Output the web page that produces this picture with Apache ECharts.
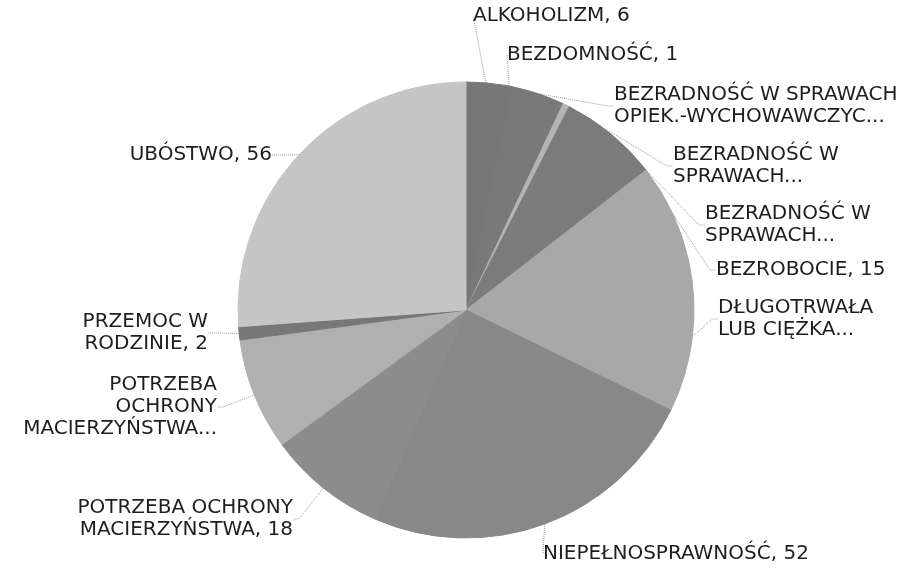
<!DOCTYPE html>
<html>
<head>
<meta charset="utf-8">
<script src="https://cdn.jsdelivr.net/npm/echarts@6/dist/echarts.min.js"></script>
<style>
  html, body { margin: 0; background: #fff; }
  #chart { width: 920px; height: 568px; }
</style>
</head>
<body>
<div id="chart"></div>
<script>
// kategorie w kolejności jak na wykresie (zgodnie z ruchem wskazówek zegara od góry)
const categories = [
  'ALKOHOLIZM',
  'BEZDOMNOŚĆ',
  'BEZRADNOŚĆ W SPRAWACH\nOPIEK.-WYCHOWAWCZYC...',
  'BEZRADNOŚĆ W\nSPRAWACH...',
  'BEZRADNOŚĆ W\nSPRAWACH...',
  'BEZROBOCIE',
  'DŁUGOTRWAŁA\nLUB CIĘŻKA...',
  'NIEPEŁNOSPRAWNOŚĆ',
  'POTRZEBA OCHRONY\nMACIERZYŃSTWA',
  'POTRZEBA\nOCHRONY\nMACIERZYŃSTWA...',
  'PRZEMOC W\nRODZINIE',
  'UBÓSTWO'
];
const values = [6, 1, 8, 1, 15, 15, 23, 52, 18, 17, 2, 56];
const grays = ['#777777', '#777777', '#797979', '#b4b4b4', '#7b7b7b', '#a8a8a8',
               '#a8a8a8', '#888888', '#8c8c8c', '#b0b0b0', '#777777', '#c5c5c5'];

// pozycje etykiet: [x, y, wyrównanie]
const labelPos = [
  [473, 16, 'left'],
  [507, 55, 'left'],
  [614, 106, 'left'],
  [673, 166, 'left'],
  [705, 225, 'left'],
  [716, 270, 'left'],
  [718, 319, 'left'],
  [543, 554, 'left'],
  [293, 519, 'right'],
  [217, 407, 'right'],
  [208, 333, 'right'],
  [272, 155, 'right']
];

const myChart = echarts.init(document.getElementById('chart'));
const option = {
  animation: false,
  backgroundColor: '#fff',
  series: [{
    type: 'pie',
    center: [466, 310],
    radius: 228,
    startAngle: 90,
    clockwise: true,
    avoidLabelOverlap: false,
    data: categories.map((c, i) => ({
      name: c,
      value: values[i],
      // obramowanie w kolorze wycinka, żeby nie było jasnych szwów
      itemStyle: { color: grays[i], borderColor: grays[i], borderWidth: 1 }
    })),
    label: {
      show: true,
      position: 'outside',
      fontFamily: 'DejaVu Sans',
      fontSize: 20,
      lineHeight: 22,
      color: '#1e1e1e',
      formatter: p => p.name.endsWith('...') ? p.name : p.name + ', ' + p.value
    },
    labelLine: {
      show: true,
      length: 6,
      length2: 6,
      lineStyle: { color: '#9a9a9a', width: 1, type: 'dotted' }
    },
    labelLayout: params => {
      const pos = labelPos[params.dataIndex];
      return { x: pos[0], y: pos[1], align: pos[2], verticalAlign: 'middle' };
    },
    emphasis: { disabled: true }
  }]
};
myChart.setOption(option);
</script>
</body>
</html>
